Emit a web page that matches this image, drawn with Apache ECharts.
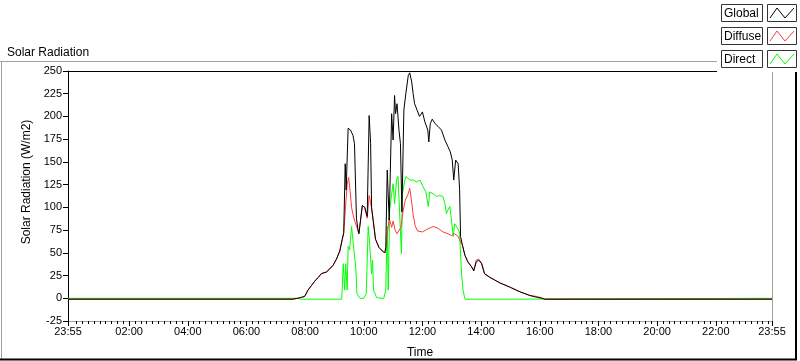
<!DOCTYPE html>
<html>
<head>
<meta charset="utf-8">
<script src="https://cdn.jsdelivr.net/npm/echarts@6/dist/echarts.min.js"></script>
<style>
html, body { margin: 0; padding: 0; background: #fff; }
#myChart { width: 800px; height: 361px; }
</style>
</head>
<body>
<div id="myChart"></div>
<script>
// minutes from 00:00; the axis runs from 23:55 of the day before (-5) to 23:55 (1435)
var seriesNames = ['Global', 'Diffuse', 'Direct'];
var seriesColors = ['#000000', '#ff3a3a', '#00ff00'];

var globalData = [[-5, -1], [455, -1], [465, 0], [472, 1], [479, 2], [486, 9], [493, 14], [500, 19], [507, 23], [513, 27], [524, 29], [530, 32], [537, 36], [544, 43], [551, 52], [556, 65], [559, 72], [562, 148], [564, 119], [568, 187], [573, 185], [578, 179], [581, 170], [585, 88], [588, 76], [590, 71], [593, 84], [597, 102], [602, 100], [607, 90], [611, 201], [614, 170], [616, 100], [619, 86], [624, 65], [631, 56], [638, 52], [643, 50], [645, 56], [648, 141], [652, 86], [657, 203], [660, 174], [663, 223], [665, 203], [668, 214], [672, 185], [675, 170], [678, 95], [682, 207], [686, 225], [691, 245], [694, 248], [698, 238], [701, 225], [704, 214], [709, 207], [714, 200], [720, 205], [725, 194], [731, 185], [733, 172], [736, 192], [740, 197], [746, 192], [752, 189], [759, 185], [766, 174], [772, 167], [777, 161], [781, 152], [784, 130], [788, 152], [793, 148], [796, 120], [798, 68], [802, 58], [807, 47], [813, 40], [820, 35], [825, 30], [830, 40], [835, 42], [841, 38], [847, 27], [858, 23], [868, 20], [878, 17], [900, 12], [920, 7], [940, 3], [955, 1], [965, 0], [970, -1], [1435, -1]];

var diffuseData = [[-5, -1], [455, -1], [465, 0], [472, 1], [479, 2], [486, 9], [493, 14], [500, 19], [507, 23], [513, 27], [524, 29], [530, 33], [537, 36], [544, 43], [551, 52], [556, 65], [559, 72], [562, 95], [566, 125], [569, 133], [572, 118], [575, 100], [578, 92], [582, 84], [586, 78], [590, 71], [593, 84], [597, 102], [602, 100], [607, 88], [611, 113], [614, 105], [617, 95], [620, 84], [624, 65], [631, 56], [638, 52], [643, 50], [646, 56], [648, 70], [652, 88], [657, 78], [660, 85], [664, 75], [668, 71], [672, 73], [676, 78], [680, 95], [685, 108], [691, 115], [694, 121], [697, 110], [701, 92], [705, 80], [710, 74], [720, 73], [730, 76], [742, 79], [752, 77], [762, 73], [772, 71], [780, 69], [786, 71], [793, 68], [798, 62], [802, 58], [807, 47], [813, 40], [820, 35], [825, 31], [830, 42], [835, 43], [841, 39], [847, 27], [858, 23], [868, 20], [878, 17], [900, 12], [920, 7], [940, 3], [955, 2], [965, 0], [970, -1], [1435, -1]];

var directData = [[-5, 0], [465, 0], [470, -1], [555, -1], [558, 38], [561, 9], [563, 38], [566, 9], [568, 57], [571, 53], [575, 79], [579, 80], [584, 31], [586, 5], [592, 0], [600, 0], [605, 5], [609, 79], [612, 60], [616, 27], [618, 42], [620, 9], [626, 1], [633, 0], [641, 0], [645, 9], [648, 79], [650, 9], [653, 97], [657, 115], [660, 126], [663, 104], [667, 130], [670, 134], [674, 135], [677, 49], [679, 115], [684, 130], [687, 134], [694, 130], [701, 130], [708, 128], [715, 130], [721, 123], [727, 117], [732, 101], [735, 117], [742, 115], [749, 112], [755, 113], [762, 112], [766, 104], [769, 93], [772, 97], [776, 101], [779, 88], [783, 68], [786, 82], [790, 82], [794, 75], [796, 71], [800, 27], [803, 9], [807, -1], [895, -1], [897, 0], [1435, 0]];

var majorTicks = [-5, 120, 240, 360, 480, 600, 720, 840, 960, 1080, 1200, 1320, 1435];
var minorTicks = [];
for (var m = 0; m < 1435; m += 12) {
    if (m % 120 !== 0) minorTicks.push(m);
}

function timeLabel(v) {
    if (v === -5 || v === 1435) return '23:55';
    var h = Math.round(v / 60);
    return (h < 10 ? '0' : '') + h + ':00';
}

var FONT = 'Liberation Sans';
var myChart = echarts.init(document.getElementById('myChart'));

// frame round the chart and the legend panel
var frame = [
    { type: 'line', shape: { x1: 0, y1: 61.5, x2: 717, y2: 61.5 }, style: { stroke: '#a0a0a0', lineWidth: 1 } },
    { type: 'line', shape: { x1: 1.5, y1: 61, x2: 1.5, y2: 360 }, style: { stroke: '#a0a0a0', lineWidth: 1 } },
    { type: 'line', shape: { x1: 0, y1: 359.5, x2: 797, y2: 359.5 }, style: { stroke: '#000', lineWidth: 2 } },
    { type: 'line', shape: { x1: 796, y1: 72, x2: 796, y2: 360 }, style: { stroke: '#000', lineWidth: 2 } },
    { type: 'rect', shape: { x: 717, y: 0, width: 83, height: 72 }, style: { fill: '#fff' }, z: 10 }
];
seriesNames.forEach(function (name, i) {
    var y0 = 4 + i * 23;
    frame.push({ type: 'rect', shape: { x: 721.5, y: y0 + 0.5, width: 41, height: 17 }, style: { fill: '#fff', stroke: '#333', lineWidth: 1 }, z: 11 });
    frame.push({ type: 'text', x: 724, y: y0 + 9.5, style: { text: name, fill: '#000', fontSize: 12, fontFamily: FONT, verticalAlign: 'middle' }, z: 12 });
    frame.push({ type: 'rect', shape: { x: 767.5, y: y0 + 0.5, width: 29, height: 17 }, style: { fill: '#fff', stroke: '#333', lineWidth: 1 }, z: 11 });
    frame.push({ type: 'polyline', shape: { points: [[770, y0 + 14], [777, y0 + 4], [785, y0 + 14], [794, y0 + 4]] }, style: { stroke: seriesColors[i], fill: null, lineWidth: 1 }, z: 12 });
});

var option = {
    animation: false,
    textStyle: { fontFamily: FONT },
    title: {
        text: 'Solar Radiation',
        left: 2,
        top: 42,
        textStyle: { fontSize: 12, fontWeight: 'normal', color: '#000', fontFamily: FONT }
    },
    grid: { left: 68, right: 28, top: 71, bottom: 40, outerBoundsMode: 'none' },
    xAxis: [{
        type: 'value',
        min: -5,
        max: 1435,
        position: 'bottom',
        name: 'Time',
        nameLocation: 'middle',
        nameGap: 26,
        nameTextStyle: { fontSize: 12, color: '#000' },
        axisLine: { onZero: false, lineStyle: { color: '#a0a0a0' } },
        axisTick: { show: true, length: 5, customValues: majorTicks, lineStyle: { color: '#000' } },
        axisLabel: { customValues: majorTicks, formatter: timeLabel, fontSize: 11, color: '#000', margin: 5 },
        splitLine: { show: false }
    }, {
        type: 'value',
        min: -5,
        max: 1435,
        position: 'bottom',
        axisLine: { show: false, onZero: false },
        axisTick: { show: true, length: 3, customValues: minorTicks, lineStyle: { color: '#000' } },
        axisLabel: { show: false },
        splitLine: { show: false }
    }, {
        type: 'value',
        min: -5,
        max: 1435,
        position: 'top',
        axisLine: { onZero: false, lineStyle: { color: '#000' } },
        axisTick: { show: false },
        axisLabel: { show: false },
        splitLine: { show: false }
    }],
    yAxis: [{
        type: 'value',
        min: -25,
        max: 250,
        interval: 25,
        name: 'Solar Radiation (W/m2)',
        nameLocation: 'middle',
        nameGap: 25,
        nameTextStyle: { fontSize: 12, color: '#000', padding: [0, 0, 0, 28] },
        axisLine: { show: true, onZero: false, lineStyle: { color: '#000' } },
        axisTick: { show: true, length: 5, lineStyle: { color: '#000' } },
        axisLabel: { fontSize: 11, color: '#000', margin: 6 },
        splitLine: { show: false }
    }, {
        type: 'value',
        min: -25,
        max: 250,
        position: 'right',
        axisLine: { show: true, onZero: false, lineStyle: { color: '#a0a0a0' } },
        axisTick: { show: false },
        axisLabel: { show: false },
        splitLine: { show: false }
    }],
    graphic: frame,
    series: [{
        name: seriesNames[2],
        type: 'line',
        data: directData,
        showSymbol: false,
        lineStyle: { color: seriesColors[2], width: 1 }
    }, {
        name: seriesNames[1],
        type: 'line',
        data: diffuseData,
        showSymbol: false,
        lineStyle: { color: seriesColors[1], width: 1 }
    }, {
        name: seriesNames[0],
        type: 'line',
        data: globalData,
        showSymbol: false,
        lineStyle: { color: seriesColors[0], width: 1 }
    }]
};
myChart.setOption(option);
</script>
</body>
</html>
